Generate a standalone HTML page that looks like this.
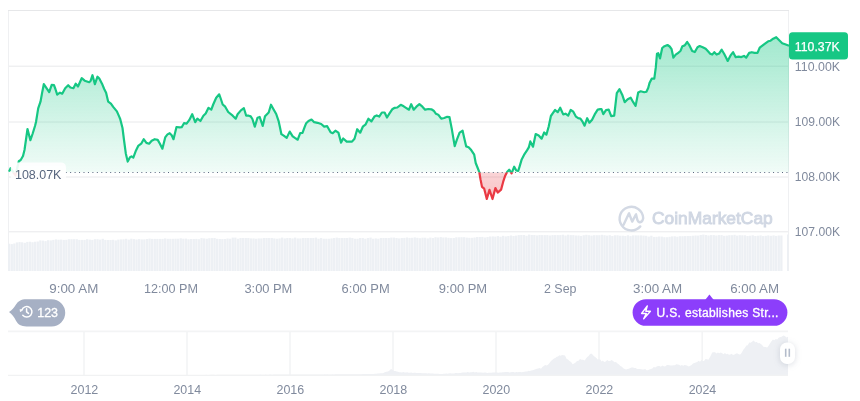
<!DOCTYPE html>
<html><head><meta charset="utf-8"><style>
html,body{margin:0;padding:0;background:#fff;width:860px;height:401px;overflow:hidden;}
svg{position:absolute;left:0;top:0;font-family:"Liberation Sans",sans-serif;will-change:transform;}
</style></head><body>
<svg width="860" height="401" viewBox="0 0 860 401">
<defs>
<linearGradient id="gg" gradientUnits="userSpaceOnUse" x1="0" y1="37" x2="0" y2="172.5">
<stop offset="0" stop-color="#16c784" stop-opacity="0.40"/>
<stop offset="1" stop-color="#16c784" stop-opacity="0.06"/>
</linearGradient>
<linearGradient id="rg" gradientUnits="userSpaceOnUse" x1="0" y1="172.5" x2="0" y2="199">
<stop offset="0" stop-color="#ea3943" stop-opacity="0.22"/>
<stop offset="1" stop-color="#ea3943" stop-opacity="0.30"/>
</linearGradient>
<clipPath id="above"><rect x="0" y="0" width="860" height="172.5"/></clipPath>
<clipPath id="below"><rect x="0" y="172.5" width="860" height="200"/></clipPath>
</defs>
<!-- chart frame -->
<g stroke-width="1" shape-rendering="crispEdges">
<line x1="8" y1="10.5" x2="789" y2="10.5" stroke="#e6e7e9"/>
<g stroke="#e8e9eb" shape-rendering="auto"><line x1="9" y1="66.2" x2="788.5" y2="66.2"/><line x1="9" y1="122.0" x2="788.5" y2="122.0"/><line x1="9" y1="177.0" x2="788.5" y2="177.0"/><line x1="9" y1="231.8" x2="788.5" y2="231.8"/></g>
<line x1="8.5" y1="11" x2="8.5" y2="271" stroke="#eff0f2"/>
<line x1="788.5" y1="11" x2="788.5" y2="271" stroke="#eff0f2"/>
</g>
<!-- volume -->
<g fill="#edf0f4"><rect x="8.00" y="243.7" width="2.30" height="27.3"/><rect x="10.60" y="244.1" width="2.30" height="26.9"/><rect x="13.20" y="243.5" width="2.30" height="27.5"/><rect x="15.80" y="242.4" width="2.30" height="28.6"/><rect x="18.40" y="242.1" width="2.30" height="28.9"/><rect x="21.00" y="242.3" width="2.30" height="28.7"/><rect x="23.60" y="242.8" width="2.30" height="28.2"/><rect x="26.20" y="241.9" width="2.30" height="29.1"/><rect x="28.80" y="241.7" width="2.30" height="29.3"/><rect x="31.40" y="242.2" width="2.30" height="28.8"/><rect x="34.00" y="241.7" width="2.30" height="29.3"/><rect x="36.60" y="241.5" width="2.30" height="29.5"/><rect x="39.20" y="240.4" width="2.30" height="30.6"/><rect x="41.80" y="240.6" width="2.30" height="30.4"/><rect x="44.40" y="241.1" width="2.30" height="29.9"/><rect x="47.00" y="240.2" width="2.30" height="30.8"/><rect x="49.60" y="240.4" width="2.30" height="30.6"/><rect x="52.20" y="239.9" width="2.30" height="31.1"/><rect x="54.80" y="239.4" width="2.30" height="31.6"/><rect x="57.40" y="239.7" width="2.30" height="31.3"/><rect x="60.00" y="239.6" width="2.30" height="31.4"/><rect x="62.60" y="239.9" width="2.30" height="31.1"/><rect x="65.20" y="239.8" width="2.30" height="31.2"/><rect x="67.80" y="239.2" width="2.30" height="31.8"/><rect x="70.40" y="239.2" width="2.30" height="31.8"/><rect x="73.00" y="239.2" width="2.30" height="31.8"/><rect x="75.60" y="239.2" width="2.30" height="31.8"/><rect x="78.20" y="239.9" width="2.30" height="31.1"/><rect x="80.80" y="239.9" width="2.30" height="31.1"/><rect x="83.40" y="239.9" width="2.30" height="31.1"/><rect x="86.00" y="239.2" width="2.30" height="31.8"/><rect x="88.60" y="239.6" width="2.30" height="31.4"/><rect x="91.20" y="239.9" width="2.30" height="31.1"/><rect x="93.80" y="239.2" width="2.30" height="31.8"/><rect x="96.40" y="239.2" width="2.30" height="31.8"/><rect x="99.00" y="239.6" width="2.30" height="31.4"/><rect x="101.60" y="238.8" width="2.30" height="32.2"/><rect x="104.20" y="239.9" width="2.30" height="31.1"/><rect x="106.80" y="240.0" width="2.30" height="31.0"/><rect x="109.40" y="240.0" width="2.30" height="31.0"/><rect x="112.00" y="239.8" width="2.30" height="31.2"/><rect x="114.60" y="240.4" width="2.30" height="30.6"/><rect x="117.20" y="239.6" width="2.30" height="31.4"/><rect x="119.80" y="239.4" width="2.30" height="31.6"/><rect x="122.40" y="239.3" width="2.30" height="31.7"/><rect x="125.00" y="238.8" width="2.30" height="32.2"/><rect x="127.60" y="239.6" width="2.30" height="31.4"/><rect x="130.20" y="238.7" width="2.30" height="32.3"/><rect x="132.80" y="239.1" width="2.30" height="31.9"/><rect x="135.40" y="239.5" width="2.30" height="31.5"/><rect x="138.00" y="239.1" width="2.30" height="31.9"/><rect x="140.60" y="239.4" width="2.30" height="31.6"/><rect x="143.20" y="239.4" width="2.30" height="31.6"/><rect x="145.80" y="239.0" width="2.30" height="32.0"/><rect x="148.40" y="238.6" width="2.30" height="32.4"/><rect x="151.00" y="238.9" width="2.30" height="32.1"/><rect x="153.60" y="238.9" width="2.30" height="32.1"/><rect x="156.20" y="238.9" width="2.30" height="32.1"/><rect x="158.80" y="238.9" width="2.30" height="32.1"/><rect x="161.40" y="238.9" width="2.30" height="32.1"/><rect x="164.00" y="238.4" width="2.30" height="32.6"/><rect x="166.60" y="238.8" width="2.30" height="32.2"/><rect x="169.20" y="238.8" width="2.30" height="32.2"/><rect x="171.80" y="238.8" width="2.30" height="32.2"/><rect x="174.40" y="238.7" width="2.30" height="32.3"/><rect x="177.00" y="238.7" width="2.30" height="32.3"/><rect x="179.60" y="238.3" width="2.30" height="32.7"/><rect x="182.20" y="238.7" width="2.30" height="32.3"/><rect x="184.80" y="238.6" width="2.30" height="32.4"/><rect x="187.40" y="239.3" width="2.30" height="31.7"/><rect x="190.00" y="239.0" width="2.30" height="32.0"/><rect x="192.60" y="239.0" width="2.30" height="32.0"/><rect x="195.20" y="238.9" width="2.30" height="32.1"/><rect x="197.80" y="239.2" width="2.30" height="31.8"/><rect x="200.40" y="238.1" width="2.30" height="32.9"/><rect x="203.00" y="238.4" width="2.30" height="32.6"/><rect x="205.60" y="238.7" width="2.30" height="32.3"/><rect x="208.20" y="238.2" width="2.30" height="32.8"/><rect x="210.80" y="238.1" width="2.30" height="32.9"/><rect x="213.40" y="238.0" width="2.30" height="33.0"/><rect x="216.00" y="238.8" width="2.30" height="32.2"/><rect x="218.60" y="239.0" width="2.30" height="32.0"/><rect x="221.20" y="239.1" width="2.30" height="31.9"/><rect x="223.80" y="239.0" width="2.30" height="32.0"/><rect x="226.40" y="238.5" width="2.30" height="32.5"/><rect x="229.00" y="238.7" width="2.30" height="32.3"/><rect x="231.60" y="237.6" width="2.30" height="33.4"/><rect x="234.20" y="237.6" width="2.30" height="33.4"/><rect x="236.80" y="238.7" width="2.30" height="32.3"/><rect x="239.40" y="238.0" width="2.30" height="33.0"/><rect x="242.00" y="238.0" width="2.30" height="33.0"/><rect x="244.60" y="238.0" width="2.30" height="33.0"/><rect x="247.20" y="238.0" width="2.30" height="33.0"/><rect x="249.80" y="238.4" width="2.30" height="32.6"/><rect x="252.40" y="238.4" width="2.30" height="32.6"/><rect x="255.00" y="238.7" width="2.30" height="32.3"/><rect x="257.60" y="238.4" width="2.30" height="32.6"/><rect x="260.20" y="238.4" width="2.30" height="32.6"/><rect x="262.80" y="238.0" width="2.30" height="33.0"/><rect x="265.40" y="238.0" width="2.30" height="33.0"/><rect x="268.00" y="238.0" width="2.30" height="33.0"/><rect x="270.60" y="238.0" width="2.30" height="33.0"/><rect x="273.20" y="238.4" width="2.30" height="32.6"/><rect x="275.80" y="238.7" width="2.30" height="32.3"/><rect x="278.40" y="238.4" width="2.30" height="32.6"/><rect x="281.00" y="237.6" width="2.30" height="33.4"/><rect x="283.60" y="238.4" width="2.30" height="32.6"/><rect x="286.20" y="238.0" width="2.30" height="33.0"/><rect x="288.80" y="238.0" width="2.30" height="33.0"/><rect x="291.40" y="238.4" width="2.30" height="32.6"/><rect x="294.00" y="237.6" width="2.30" height="33.4"/><rect x="296.60" y="238.4" width="2.30" height="32.6"/><rect x="299.20" y="238.4" width="2.30" height="32.6"/><rect x="301.80" y="238.0" width="2.30" height="33.0"/><rect x="304.40" y="238.0" width="2.30" height="33.0"/><rect x="307.00" y="238.0" width="2.30" height="33.0"/><rect x="309.60" y="238.0" width="2.30" height="33.0"/><rect x="312.20" y="238.0" width="2.30" height="33.0"/><rect x="314.80" y="237.6" width="2.30" height="33.4"/><rect x="317.40" y="238.7" width="2.30" height="32.3"/><rect x="320.00" y="238.0" width="2.30" height="33.0"/><rect x="322.60" y="238.7" width="2.30" height="32.3"/><rect x="325.20" y="238.7" width="2.30" height="32.3"/><rect x="327.80" y="238.7" width="2.30" height="32.3"/><rect x="330.40" y="238.4" width="2.30" height="32.6"/><rect x="333.00" y="238.0" width="2.30" height="33.0"/><rect x="335.60" y="237.6" width="2.30" height="33.4"/><rect x="338.20" y="238.0" width="2.30" height="33.0"/><rect x="340.80" y="238.0" width="2.30" height="33.0"/><rect x="343.40" y="238.0" width="2.30" height="33.0"/><rect x="346.00" y="238.0" width="2.30" height="33.0"/><rect x="348.60" y="237.6" width="2.30" height="33.4"/><rect x="351.20" y="238.0" width="2.30" height="33.0"/><rect x="353.80" y="238.7" width="2.30" height="32.3"/><rect x="356.40" y="238.7" width="2.30" height="32.3"/><rect x="359.00" y="238.0" width="2.30" height="33.0"/><rect x="361.60" y="238.0" width="2.30" height="33.0"/><rect x="364.20" y="238.7" width="2.30" height="32.3"/><rect x="366.80" y="238.0" width="2.30" height="33.0"/><rect x="369.40" y="237.6" width="2.30" height="33.4"/><rect x="372.00" y="238.7" width="2.30" height="32.3"/><rect x="374.60" y="238.4" width="2.30" height="32.6"/><rect x="377.20" y="238.7" width="2.30" height="32.3"/><rect x="379.80" y="238.0" width="2.30" height="33.0"/><rect x="382.40" y="238.0" width="2.30" height="33.0"/><rect x="385.00" y="238.0" width="2.30" height="33.0"/><rect x="387.60" y="238.0" width="2.30" height="33.0"/><rect x="390.20" y="237.6" width="2.30" height="33.4"/><rect x="392.80" y="237.6" width="2.30" height="33.4"/><rect x="395.40" y="238.0" width="2.30" height="33.0"/><rect x="398.00" y="238.4" width="2.30" height="32.6"/><rect x="400.60" y="238.0" width="2.30" height="33.0"/><rect x="403.20" y="237.9" width="2.30" height="33.1"/><rect x="405.80" y="237.5" width="2.30" height="33.5"/><rect x="408.40" y="237.9" width="2.30" height="33.1"/><rect x="411.00" y="237.8" width="2.30" height="33.2"/><rect x="413.60" y="237.4" width="2.30" height="33.6"/><rect x="416.20" y="237.8" width="2.30" height="33.2"/><rect x="418.80" y="238.2" width="2.30" height="32.8"/><rect x="421.40" y="237.7" width="2.30" height="33.3"/><rect x="424.00" y="237.7" width="2.30" height="33.3"/><rect x="426.60" y="238.4" width="2.30" height="32.6"/><rect x="429.20" y="237.6" width="2.30" height="33.4"/><rect x="431.80" y="238.0" width="2.30" height="33.0"/><rect x="434.40" y="237.2" width="2.30" height="33.8"/><rect x="437.00" y="237.5" width="2.30" height="33.5"/><rect x="439.60" y="237.1" width="2.30" height="33.9"/><rect x="442.20" y="237.5" width="2.30" height="33.5"/><rect x="444.80" y="237.4" width="2.30" height="33.6"/><rect x="447.40" y="237.8" width="2.30" height="33.2"/><rect x="450.00" y="238.1" width="2.30" height="32.9"/><rect x="452.60" y="238.0" width="2.30" height="33.0"/><rect x="455.20" y="237.3" width="2.30" height="33.7"/><rect x="457.80" y="237.3" width="2.30" height="33.7"/><rect x="460.40" y="237.2" width="2.30" height="33.8"/><rect x="463.00" y="237.2" width="2.30" height="33.8"/><rect x="465.60" y="237.6" width="2.30" height="33.4"/><rect x="468.20" y="237.8" width="2.30" height="33.2"/><rect x="470.80" y="237.8" width="2.30" height="33.2"/><rect x="473.40" y="237.5" width="2.30" height="33.5"/><rect x="476.00" y="237.0" width="2.30" height="34.0"/><rect x="478.60" y="237.0" width="2.30" height="34.0"/><rect x="481.20" y="236.9" width="2.30" height="34.1"/><rect x="483.80" y="237.5" width="2.30" height="33.5"/><rect x="486.40" y="237.0" width="2.30" height="34.0"/><rect x="489.00" y="236.5" width="2.30" height="34.5"/><rect x="491.60" y="236.4" width="2.30" height="34.6"/><rect x="494.20" y="236.6" width="2.30" height="34.4"/><rect x="496.80" y="236.1" width="2.30" height="34.9"/><rect x="499.40" y="236.7" width="2.30" height="34.3"/><rect x="502.00" y="235.8" width="2.30" height="35.2"/><rect x="504.60" y="236.4" width="2.30" height="34.6"/><rect x="507.20" y="236.0" width="2.30" height="35.0"/><rect x="509.80" y="235.5" width="2.30" height="35.5"/><rect x="512.40" y="236.0" width="2.30" height="35.0"/><rect x="515.00" y="235.6" width="2.30" height="35.4"/><rect x="517.60" y="235.1" width="2.30" height="35.9"/><rect x="520.20" y="235.0" width="2.30" height="36.0"/><rect x="522.80" y="235.0" width="2.30" height="36.0"/><rect x="525.40" y="235.7" width="2.30" height="35.3"/><rect x="528.00" y="234.6" width="2.30" height="36.4"/><rect x="530.60" y="235.0" width="2.30" height="36.0"/><rect x="533.20" y="235.0" width="2.30" height="36.0"/><rect x="535.80" y="235.4" width="2.30" height="35.6"/><rect x="538.40" y="235.0" width="2.30" height="36.0"/><rect x="541.00" y="235.1" width="2.30" height="35.9"/><rect x="543.60" y="235.1" width="2.30" height="35.9"/><rect x="546.20" y="235.1" width="2.30" height="35.9"/><rect x="548.80" y="235.5" width="2.30" height="35.5"/><rect x="551.40" y="235.1" width="2.30" height="35.9"/><rect x="554.00" y="235.1" width="2.30" height="35.9"/><rect x="556.60" y="235.1" width="2.30" height="35.9"/><rect x="559.20" y="235.1" width="2.30" height="35.9"/><rect x="561.80" y="234.7" width="2.30" height="36.3"/><rect x="564.40" y="235.5" width="2.30" height="35.5"/><rect x="567.00" y="234.7" width="2.30" height="36.3"/><rect x="569.60" y="235.1" width="2.30" height="35.9"/><rect x="572.20" y="235.1" width="2.30" height="35.9"/><rect x="574.80" y="235.5" width="2.30" height="35.5"/><rect x="577.40" y="235.5" width="2.30" height="35.5"/><rect x="580.00" y="235.9" width="2.30" height="35.1"/><rect x="582.60" y="235.2" width="2.30" height="35.8"/><rect x="585.20" y="234.8" width="2.30" height="36.2"/><rect x="587.80" y="235.2" width="2.30" height="35.8"/><rect x="590.40" y="235.6" width="2.30" height="35.4"/><rect x="593.00" y="235.2" width="2.30" height="35.8"/><rect x="595.60" y="235.2" width="2.30" height="35.8"/><rect x="598.20" y="235.2" width="2.30" height="35.8"/><rect x="600.80" y="234.8" width="2.30" height="36.2"/><rect x="603.40" y="235.2" width="2.30" height="35.8"/><rect x="606.00" y="235.6" width="2.30" height="35.4"/><rect x="608.60" y="235.2" width="2.30" height="35.8"/><rect x="611.20" y="236.0" width="2.30" height="35.0"/><rect x="613.80" y="235.3" width="2.30" height="35.7"/><rect x="616.40" y="235.3" width="2.30" height="35.7"/><rect x="619.00" y="235.7" width="2.30" height="35.3"/><rect x="621.60" y="235.7" width="2.30" height="35.3"/><rect x="624.20" y="236.0" width="2.30" height="35.0"/><rect x="626.80" y="235.3" width="2.30" height="35.7"/><rect x="629.40" y="236.1" width="2.30" height="34.9"/><rect x="632.00" y="235.4" width="2.30" height="35.6"/><rect x="634.60" y="235.4" width="2.30" height="35.6"/><rect x="637.20" y="235.4" width="2.30" height="35.6"/><rect x="639.80" y="235.4" width="2.30" height="35.6"/><rect x="642.40" y="235.6" width="2.30" height="35.4"/><rect x="645.00" y="235.8" width="2.30" height="35.2"/><rect x="647.60" y="236.6" width="2.30" height="34.4"/><rect x="650.20" y="235.7" width="2.30" height="35.3"/><rect x="652.80" y="236.9" width="2.30" height="34.1"/><rect x="655.40" y="236.8" width="2.30" height="34.2"/><rect x="658.00" y="236.5" width="2.30" height="34.5"/><rect x="660.60" y="236.6" width="2.30" height="34.4"/><rect x="663.20" y="237.2" width="2.30" height="33.8"/><rect x="665.80" y="237.2" width="2.30" height="33.8"/><rect x="668.40" y="236.8" width="2.30" height="34.2"/><rect x="671.00" y="236.4" width="2.30" height="34.6"/><rect x="673.60" y="236.3" width="2.30" height="34.7"/><rect x="676.20" y="236.7" width="2.30" height="34.3"/><rect x="678.80" y="236.2" width="2.30" height="34.8"/><rect x="681.40" y="236.2" width="2.30" height="34.8"/><rect x="684.00" y="236.1" width="2.30" height="34.9"/><rect x="686.60" y="236.0" width="2.30" height="35.0"/><rect x="689.20" y="236.0" width="2.30" height="35.0"/><rect x="691.80" y="235.7" width="2.30" height="35.3"/><rect x="694.40" y="235.5" width="2.30" height="35.5"/><rect x="697.00" y="235.6" width="2.30" height="35.4"/><rect x="699.60" y="235.0" width="2.30" height="36.0"/><rect x="702.20" y="234.6" width="2.30" height="36.4"/><rect x="704.80" y="235.0" width="2.30" height="36.0"/><rect x="707.40" y="235.5" width="2.30" height="35.5"/><rect x="710.00" y="235.1" width="2.30" height="35.9"/><rect x="712.60" y="235.1" width="2.30" height="35.9"/><rect x="715.20" y="235.5" width="2.30" height="35.5"/><rect x="717.80" y="235.1" width="2.30" height="35.9"/><rect x="720.40" y="235.1" width="2.30" height="35.9"/><rect x="723.00" y="235.8" width="2.30" height="35.2"/><rect x="725.60" y="235.6" width="2.30" height="35.4"/><rect x="728.20" y="235.2" width="2.30" height="35.8"/><rect x="730.80" y="235.2" width="2.30" height="35.8"/><rect x="733.40" y="234.8" width="2.30" height="36.2"/><rect x="736.00" y="235.6" width="2.30" height="35.4"/><rect x="738.60" y="235.2" width="2.30" height="35.8"/><rect x="741.20" y="235.3" width="2.30" height="35.7"/><rect x="743.80" y="235.3" width="2.30" height="35.7"/><rect x="746.40" y="236.0" width="2.30" height="35.0"/><rect x="749.00" y="235.7" width="2.30" height="35.3"/><rect x="751.60" y="235.3" width="2.30" height="35.7"/><rect x="754.20" y="236.0" width="2.30" height="35.0"/><rect x="756.80" y="235.7" width="2.30" height="35.3"/><rect x="759.40" y="235.4" width="2.30" height="35.6"/><rect x="762.00" y="236.1" width="2.30" height="34.9"/><rect x="764.60" y="235.8" width="2.30" height="35.2"/><rect x="767.20" y="235.4" width="2.30" height="35.6"/><rect x="769.80" y="235.8" width="2.30" height="35.2"/><rect x="772.40" y="235.4" width="2.30" height="35.6"/><rect x="775.00" y="235.9" width="2.30" height="35.1"/><rect x="777.60" y="235.5" width="2.30" height="35.5"/><rect x="780.20" y="235.5" width="2.30" height="35.5"/><rect x="787" y="234.5" width="1.6" height="36.5"/></g>
<!-- watermark -->
<path d="M640.3,226.4 A11.8,11.8 0 1 1 643.2,218.2 Q642.6,222.6 639.6,222.2 Q637.6,221.8 637,218.5 L636,214.3 L632.2,221.6 L629,213.3 L623.6,224.8" fill="none" stroke="#d3d9e4" stroke-width="2.4" stroke-linecap="round" stroke-linejoin="round"/>
<text x="652.02" y="224.3" font-size="17" textLength="120.71" lengthAdjust="spacingAndGlyphs" fill="#d0d7e3" stroke="#d0d7e3" stroke-width="0.9">CoinMarketCap</text>
<!-- area -->
<path d="M9.0,171.6 L10.6,168.2 L15.5,175.5 L18.8,161.2 L20.7,160.0 L23.0,156.0 L24.5,150.0 L26.0,139.5 L27.5,129.0 L30.4,140.2 L32.7,133.5 L35.0,126.0 L36.0,122.0 L38.2,108.4 L40.5,101.7 L42.0,93.4 L43.8,84.2 L46.5,88.2 L49.2,92.2 L51.7,84.9 L54.0,85.2 L55.4,89.0 L57.2,94.6 L60.0,92.7 L62.2,93.7 L65.2,88.2 L68.2,85.2 L70.4,87.5 L73.4,88.2 L75.7,83.7 L78.0,86.5 L81.7,78.2 L84.7,80.7 L89.2,82.2 L90.7,80.7 L92.5,75.2 L94.9,84.2 L97.5,76.7 L99.3,78.5 L102.0,83.7 L104.2,89.0 L106.1,92.7 L108.2,101.7 L110.9,103.6 L113.2,106.9 L116.9,111.4 L119.2,116.6 L120.2,119.0 L122.5,128.0 L124.0,140.0 L125.8,153.4 L127.7,161.6 L130.0,157.2 L131.5,156.4 L133.3,157.6 L136.0,150.4 L138.2,145.9 L141.2,143.7 L143.7,139.2 L146.4,142.9 L149.1,143.7 L151.7,140.7 L154.7,139.2 L157.7,139.9 L159.9,143.7 L162.4,148.7 L165.2,137.4 L167.5,134.4 L169.7,133.2 L171.7,135.2 L173.5,139.2 L176.5,127.0 L179.5,127.4 L181.7,127.2 L184.0,123.2 L186.6,123.7 L189.2,120.2 L192.2,114.2 L195.2,122.2 L197.4,118.7 L200.4,121.0 L203.4,115.7 L205.7,113.5 L208.5,107.8 L211.3,109.7 L213.2,104.5 L216.2,97.7 L219.2,94.3 L220.7,98.5 L222.7,104.5 L225.2,106.7 L228.2,112.0 L232.7,115.7 L235.7,118.7 L237.6,114.2 L240.9,110.4 L243.9,108.2 L246.2,115.7 L248.7,115.7 L250.7,116.4 L252.4,119.0 L254.8,126.7 L257.5,117.7 L259.7,117.0 L262.7,125.9 L265.0,116.2 L266.5,114.7 L268.7,112.5 L271.0,104.7 L273.2,108.7 L276.2,114.0 L278.7,121.4 L280.0,127.4 L281.4,134.2 L283.7,135.7 L286.7,137.9 L289.7,131.6 L292.7,136.4 L294.9,137.9 L297.7,139.7 L300.2,133.2 L302.5,132.9 L304.7,126.9 L306.2,123.2 L308.5,121.0 L311.5,119.5 L314.2,122.2 L317.5,122.8 L321.2,124.0 L324.2,126.6 L327.2,126.2 L330.6,132.2 L332.7,133.2 L335.4,130.7 L338.4,132.6 L341.1,142.6 L343.2,138.5 L346.7,141.6 L349.7,141.6 L352.0,141.6 L354.5,138.7 L357.2,129.2 L360.2,132.7 L362.8,126.7 L365.4,124.7 L368.4,118.7 L371.4,121.4 L374.4,116.6 L376.7,115.4 L379.2,116.6 L381.9,112.5 L384.6,112.5 L387.0,117.5 L389.5,113.4 L392.2,109.3 L394.7,107.8 L397.3,107.5 L400.7,104.8 L403.7,106.3 L406.0,107.8 L409.0,109.7 L411.2,104.2 L413.7,109.7 L416.4,106.7 L419.4,104.2 L422.4,106.7 L425.1,109.7 L428.4,109.0 L431.4,109.3 L433.7,110.7 L436.0,113.8 L438.2,114.7 L441.2,118.7 L444.2,118.0 L447.2,116.8 L449.5,117.2 L451.7,128.4 L454.7,146.1 L456.9,139.7 L459.6,132.6 L462.6,130.7 L464.1,137.4 L466.2,146.4 L468.6,147.2 L471.2,150.1 L474.2,154.7 L475.7,163.0 L477.5,167.5 L479.3,172.2 L480.5,179.4 L482.0,186.9 L484.2,188.7 L486.8,199.0 L489.5,189.9 L492.5,199.0 L495.4,188.1 L497.7,192.6 L501.1,189.6 L503.2,181.7 L505.2,175.7 L507.1,171.9 L509.2,169.7 L511.6,173.4 L514.2,166.7 L516.3,170.5 L518.2,171.0 L519.5,166.9 L521.7,159.4 L524.0,154.9 L527.0,150.4 L528.8,147.4 L530.3,141.4 L533.0,146.7 L535.7,134.0 L538.7,135.4 L541.6,138.7 L544.2,132.5 L546.4,134.7 L548.7,126.5 L550.9,116.0 L553.2,112.7 L555.1,110.0 L557.7,112.2 L560.2,107.7 L563.2,114.4 L565.5,113.7 L568.2,115.6 L570.7,109.9 L573.3,111.7 L576.0,116.7 L578.2,118.2 L580.4,118.6 L582.7,121.9 L584.6,125.7 L587.2,118.2 L589.4,122.7 L592.1,119.7 L594.7,114.4 L597.7,109.6 L600.2,109.2 L601.5,109.2 L603.3,114.2 L606.0,110.1 L608.7,109.7 L611.2,116.1 L614.2,115.7 L616.8,93.2 L619.5,89.2 L622.2,94.7 L624.7,102.2 L627.7,99.2 L630.7,97.7 L633.2,102.2 L635.6,105.9 L638.2,92.5 L640.7,91.3 L644.2,92.2 L646.4,91.7 L648.2,88.0 L649.5,83.1 L651.7,78.7 L654.3,78.7 L655.8,67.4 L657.0,53.7 L658.2,53.2 L660.0,58.4 L662.2,48.0 L664.5,46.2 L667.5,45.0 L669.7,46.5 L671.6,49.2 L673.4,57.7 L675.7,54.7 L677.9,53.2 L680.6,50.7 L682.4,46.2 L684.7,45.4 L687.2,42.0 L689.6,45.7 L692.2,51.0 L694.8,52.0 L697.5,47.2 L699.7,46.0 L702.7,47.2 L705.7,48.7 L708.0,51.2 L710.2,53.7 L712.2,54.6 L714.3,52.2 L716.6,54.6 L719.2,53.4 L721.7,49.7 L724.1,53.7 L725.9,57.2 L727.7,60.9 L730.4,55.7 L733.1,52.2 L735.7,57.2 L738.7,56.7 L741.3,57.1 L744.0,55.9 L746.2,57.7 L749.2,52.9 L751.8,52.2 L754.5,52.9 L757.5,52.9 L759.7,47.7 L762.7,45.4 L765.7,43.2 L768.2,41.3 L770.6,40.7 L773.2,38.7 L776.2,37.2 L779.2,40.2 L782.2,43.2 L785.1,44.3 L789.0,45.8 L789.0,172.5 L9.0,172.5 Z" fill="url(#gg)" clip-path="url(#above)"/>
<path d="M9.0,171.6 L10.6,168.2 L15.5,175.5 L18.8,161.2 L20.7,160.0 L23.0,156.0 L24.5,150.0 L26.0,139.5 L27.5,129.0 L30.4,140.2 L32.7,133.5 L35.0,126.0 L36.0,122.0 L38.2,108.4 L40.5,101.7 L42.0,93.4 L43.8,84.2 L46.5,88.2 L49.2,92.2 L51.7,84.9 L54.0,85.2 L55.4,89.0 L57.2,94.6 L60.0,92.7 L62.2,93.7 L65.2,88.2 L68.2,85.2 L70.4,87.5 L73.4,88.2 L75.7,83.7 L78.0,86.5 L81.7,78.2 L84.7,80.7 L89.2,82.2 L90.7,80.7 L92.5,75.2 L94.9,84.2 L97.5,76.7 L99.3,78.5 L102.0,83.7 L104.2,89.0 L106.1,92.7 L108.2,101.7 L110.9,103.6 L113.2,106.9 L116.9,111.4 L119.2,116.6 L120.2,119.0 L122.5,128.0 L124.0,140.0 L125.8,153.4 L127.7,161.6 L130.0,157.2 L131.5,156.4 L133.3,157.6 L136.0,150.4 L138.2,145.9 L141.2,143.7 L143.7,139.2 L146.4,142.9 L149.1,143.7 L151.7,140.7 L154.7,139.2 L157.7,139.9 L159.9,143.7 L162.4,148.7 L165.2,137.4 L167.5,134.4 L169.7,133.2 L171.7,135.2 L173.5,139.2 L176.5,127.0 L179.5,127.4 L181.7,127.2 L184.0,123.2 L186.6,123.7 L189.2,120.2 L192.2,114.2 L195.2,122.2 L197.4,118.7 L200.4,121.0 L203.4,115.7 L205.7,113.5 L208.5,107.8 L211.3,109.7 L213.2,104.5 L216.2,97.7 L219.2,94.3 L220.7,98.5 L222.7,104.5 L225.2,106.7 L228.2,112.0 L232.7,115.7 L235.7,118.7 L237.6,114.2 L240.9,110.4 L243.9,108.2 L246.2,115.7 L248.7,115.7 L250.7,116.4 L252.4,119.0 L254.8,126.7 L257.5,117.7 L259.7,117.0 L262.7,125.9 L265.0,116.2 L266.5,114.7 L268.7,112.5 L271.0,104.7 L273.2,108.7 L276.2,114.0 L278.7,121.4 L280.0,127.4 L281.4,134.2 L283.7,135.7 L286.7,137.9 L289.7,131.6 L292.7,136.4 L294.9,137.9 L297.7,139.7 L300.2,133.2 L302.5,132.9 L304.7,126.9 L306.2,123.2 L308.5,121.0 L311.5,119.5 L314.2,122.2 L317.5,122.8 L321.2,124.0 L324.2,126.6 L327.2,126.2 L330.6,132.2 L332.7,133.2 L335.4,130.7 L338.4,132.6 L341.1,142.6 L343.2,138.5 L346.7,141.6 L349.7,141.6 L352.0,141.6 L354.5,138.7 L357.2,129.2 L360.2,132.7 L362.8,126.7 L365.4,124.7 L368.4,118.7 L371.4,121.4 L374.4,116.6 L376.7,115.4 L379.2,116.6 L381.9,112.5 L384.6,112.5 L387.0,117.5 L389.5,113.4 L392.2,109.3 L394.7,107.8 L397.3,107.5 L400.7,104.8 L403.7,106.3 L406.0,107.8 L409.0,109.7 L411.2,104.2 L413.7,109.7 L416.4,106.7 L419.4,104.2 L422.4,106.7 L425.1,109.7 L428.4,109.0 L431.4,109.3 L433.7,110.7 L436.0,113.8 L438.2,114.7 L441.2,118.7 L444.2,118.0 L447.2,116.8 L449.5,117.2 L451.7,128.4 L454.7,146.1 L456.9,139.7 L459.6,132.6 L462.6,130.7 L464.1,137.4 L466.2,146.4 L468.6,147.2 L471.2,150.1 L474.2,154.7 L475.7,163.0 L477.5,167.5 L479.3,172.2 L480.5,179.4 L482.0,186.9 L484.2,188.7 L486.8,199.0 L489.5,189.9 L492.5,199.0 L495.4,188.1 L497.7,192.6 L501.1,189.6 L503.2,181.7 L505.2,175.7 L507.1,171.9 L509.2,169.7 L511.6,173.4 L514.2,166.7 L516.3,170.5 L518.2,171.0 L519.5,166.9 L521.7,159.4 L524.0,154.9 L527.0,150.4 L528.8,147.4 L530.3,141.4 L533.0,146.7 L535.7,134.0 L538.7,135.4 L541.6,138.7 L544.2,132.5 L546.4,134.7 L548.7,126.5 L550.9,116.0 L553.2,112.7 L555.1,110.0 L557.7,112.2 L560.2,107.7 L563.2,114.4 L565.5,113.7 L568.2,115.6 L570.7,109.9 L573.3,111.7 L576.0,116.7 L578.2,118.2 L580.4,118.6 L582.7,121.9 L584.6,125.7 L587.2,118.2 L589.4,122.7 L592.1,119.7 L594.7,114.4 L597.7,109.6 L600.2,109.2 L601.5,109.2 L603.3,114.2 L606.0,110.1 L608.7,109.7 L611.2,116.1 L614.2,115.7 L616.8,93.2 L619.5,89.2 L622.2,94.7 L624.7,102.2 L627.7,99.2 L630.7,97.7 L633.2,102.2 L635.6,105.9 L638.2,92.5 L640.7,91.3 L644.2,92.2 L646.4,91.7 L648.2,88.0 L649.5,83.1 L651.7,78.7 L654.3,78.7 L655.8,67.4 L657.0,53.7 L658.2,53.2 L660.0,58.4 L662.2,48.0 L664.5,46.2 L667.5,45.0 L669.7,46.5 L671.6,49.2 L673.4,57.7 L675.7,54.7 L677.9,53.2 L680.6,50.7 L682.4,46.2 L684.7,45.4 L687.2,42.0 L689.6,45.7 L692.2,51.0 L694.8,52.0 L697.5,47.2 L699.7,46.0 L702.7,47.2 L705.7,48.7 L708.0,51.2 L710.2,53.7 L712.2,54.6 L714.3,52.2 L716.6,54.6 L719.2,53.4 L721.7,49.7 L724.1,53.7 L725.9,57.2 L727.7,60.9 L730.4,55.7 L733.1,52.2 L735.7,57.2 L738.7,56.7 L741.3,57.1 L744.0,55.9 L746.2,57.7 L749.2,52.9 L751.8,52.2 L754.5,52.9 L757.5,52.9 L759.7,47.7 L762.7,45.4 L765.7,43.2 L768.2,41.3 L770.6,40.7 L773.2,38.7 L776.2,37.2 L779.2,40.2 L782.2,43.2 L785.1,44.3 L789.0,45.8 L789.0,171.5 L9.0,171.5 Z" fill="url(#rg)" clip-path="url(#below)"/>
<line x1="65.7" y1="172.5" x2="789" y2="172.5" stroke="#58667e" stroke-width="1" stroke-dasharray="1,3.449"/>
<path d="M9.0,171.6 L10.6,168.2 L15.5,175.5 L18.8,161.2 L20.7,160.0 L23.0,156.0 L24.5,150.0 L26.0,139.5 L27.5,129.0 L30.4,140.2 L32.7,133.5 L35.0,126.0 L36.0,122.0 L38.2,108.4 L40.5,101.7 L42.0,93.4 L43.8,84.2 L46.5,88.2 L49.2,92.2 L51.7,84.9 L54.0,85.2 L55.4,89.0 L57.2,94.6 L60.0,92.7 L62.2,93.7 L65.2,88.2 L68.2,85.2 L70.4,87.5 L73.4,88.2 L75.7,83.7 L78.0,86.5 L81.7,78.2 L84.7,80.7 L89.2,82.2 L90.7,80.7 L92.5,75.2 L94.9,84.2 L97.5,76.7 L99.3,78.5 L102.0,83.7 L104.2,89.0 L106.1,92.7 L108.2,101.7 L110.9,103.6 L113.2,106.9 L116.9,111.4 L119.2,116.6 L120.2,119.0 L122.5,128.0 L124.0,140.0 L125.8,153.4 L127.7,161.6 L130.0,157.2 L131.5,156.4 L133.3,157.6 L136.0,150.4 L138.2,145.9 L141.2,143.7 L143.7,139.2 L146.4,142.9 L149.1,143.7 L151.7,140.7 L154.7,139.2 L157.7,139.9 L159.9,143.7 L162.4,148.7 L165.2,137.4 L167.5,134.4 L169.7,133.2 L171.7,135.2 L173.5,139.2 L176.5,127.0 L179.5,127.4 L181.7,127.2 L184.0,123.2 L186.6,123.7 L189.2,120.2 L192.2,114.2 L195.2,122.2 L197.4,118.7 L200.4,121.0 L203.4,115.7 L205.7,113.5 L208.5,107.8 L211.3,109.7 L213.2,104.5 L216.2,97.7 L219.2,94.3 L220.7,98.5 L222.7,104.5 L225.2,106.7 L228.2,112.0 L232.7,115.7 L235.7,118.7 L237.6,114.2 L240.9,110.4 L243.9,108.2 L246.2,115.7 L248.7,115.7 L250.7,116.4 L252.4,119.0 L254.8,126.7 L257.5,117.7 L259.7,117.0 L262.7,125.9 L265.0,116.2 L266.5,114.7 L268.7,112.5 L271.0,104.7 L273.2,108.7 L276.2,114.0 L278.7,121.4 L280.0,127.4 L281.4,134.2 L283.7,135.7 L286.7,137.9 L289.7,131.6 L292.7,136.4 L294.9,137.9 L297.7,139.7 L300.2,133.2 L302.5,132.9 L304.7,126.9 L306.2,123.2 L308.5,121.0 L311.5,119.5 L314.2,122.2 L317.5,122.8 L321.2,124.0 L324.2,126.6 L327.2,126.2 L330.6,132.2 L332.7,133.2 L335.4,130.7 L338.4,132.6 L341.1,142.6 L343.2,138.5 L346.7,141.6 L349.7,141.6 L352.0,141.6 L354.5,138.7 L357.2,129.2 L360.2,132.7 L362.8,126.7 L365.4,124.7 L368.4,118.7 L371.4,121.4 L374.4,116.6 L376.7,115.4 L379.2,116.6 L381.9,112.5 L384.6,112.5 L387.0,117.5 L389.5,113.4 L392.2,109.3 L394.7,107.8 L397.3,107.5 L400.7,104.8 L403.7,106.3 L406.0,107.8 L409.0,109.7 L411.2,104.2 L413.7,109.7 L416.4,106.7 L419.4,104.2 L422.4,106.7 L425.1,109.7 L428.4,109.0 L431.4,109.3 L433.7,110.7 L436.0,113.8 L438.2,114.7 L441.2,118.7 L444.2,118.0 L447.2,116.8 L449.5,117.2 L451.7,128.4 L454.7,146.1 L456.9,139.7 L459.6,132.6 L462.6,130.7 L464.1,137.4 L466.2,146.4 L468.6,147.2 L471.2,150.1 L474.2,154.7 L475.7,163.0 L477.5,167.5 L479.3,172.2 L480.5,179.4 L482.0,186.9 L484.2,188.7 L486.8,199.0 L489.5,189.9 L492.5,199.0 L495.4,188.1 L497.7,192.6 L501.1,189.6 L503.2,181.7 L505.2,175.7 L507.1,171.9 L509.2,169.7 L511.6,173.4 L514.2,166.7 L516.3,170.5 L518.2,171.0 L519.5,166.9 L521.7,159.4 L524.0,154.9 L527.0,150.4 L528.8,147.4 L530.3,141.4 L533.0,146.7 L535.7,134.0 L538.7,135.4 L541.6,138.7 L544.2,132.5 L546.4,134.7 L548.7,126.5 L550.9,116.0 L553.2,112.7 L555.1,110.0 L557.7,112.2 L560.2,107.7 L563.2,114.4 L565.5,113.7 L568.2,115.6 L570.7,109.9 L573.3,111.7 L576.0,116.7 L578.2,118.2 L580.4,118.6 L582.7,121.9 L584.6,125.7 L587.2,118.2 L589.4,122.7 L592.1,119.7 L594.7,114.4 L597.7,109.6 L600.2,109.2 L601.5,109.2 L603.3,114.2 L606.0,110.1 L608.7,109.7 L611.2,116.1 L614.2,115.7 L616.8,93.2 L619.5,89.2 L622.2,94.7 L624.7,102.2 L627.7,99.2 L630.7,97.7 L633.2,102.2 L635.6,105.9 L638.2,92.5 L640.7,91.3 L644.2,92.2 L646.4,91.7 L648.2,88.0 L649.5,83.1 L651.7,78.7 L654.3,78.7 L655.8,67.4 L657.0,53.7 L658.2,53.2 L660.0,58.4 L662.2,48.0 L664.5,46.2 L667.5,45.0 L669.7,46.5 L671.6,49.2 L673.4,57.7 L675.7,54.7 L677.9,53.2 L680.6,50.7 L682.4,46.2 L684.7,45.4 L687.2,42.0 L689.6,45.7 L692.2,51.0 L694.8,52.0 L697.5,47.2 L699.7,46.0 L702.7,47.2 L705.7,48.7 L708.0,51.2 L710.2,53.7 L712.2,54.6 L714.3,52.2 L716.6,54.6 L719.2,53.4 L721.7,49.7 L724.1,53.7 L725.9,57.2 L727.7,60.9 L730.4,55.7 L733.1,52.2 L735.7,57.2 L738.7,56.7 L741.3,57.1 L744.0,55.9 L746.2,57.7 L749.2,52.9 L751.8,52.2 L754.5,52.9 L757.5,52.9 L759.7,47.7 L762.7,45.4 L765.7,43.2 L768.2,41.3 L770.6,40.7 L773.2,38.7 L776.2,37.2 L779.2,40.2 L782.2,43.2 L785.1,44.3 L789.0,45.8" fill="none" stroke="#16c784" stroke-width="2.2" stroke-linejoin="round" clip-path="url(#above)"/>
<path d="M9.0,171.6 L10.6,168.2 L15.5,175.5 L18.8,161.2 L20.7,160.0 L23.0,156.0 L24.5,150.0 L26.0,139.5 L27.5,129.0 L30.4,140.2 L32.7,133.5 L35.0,126.0 L36.0,122.0 L38.2,108.4 L40.5,101.7 L42.0,93.4 L43.8,84.2 L46.5,88.2 L49.2,92.2 L51.7,84.9 L54.0,85.2 L55.4,89.0 L57.2,94.6 L60.0,92.7 L62.2,93.7 L65.2,88.2 L68.2,85.2 L70.4,87.5 L73.4,88.2 L75.7,83.7 L78.0,86.5 L81.7,78.2 L84.7,80.7 L89.2,82.2 L90.7,80.7 L92.5,75.2 L94.9,84.2 L97.5,76.7 L99.3,78.5 L102.0,83.7 L104.2,89.0 L106.1,92.7 L108.2,101.7 L110.9,103.6 L113.2,106.9 L116.9,111.4 L119.2,116.6 L120.2,119.0 L122.5,128.0 L124.0,140.0 L125.8,153.4 L127.7,161.6 L130.0,157.2 L131.5,156.4 L133.3,157.6 L136.0,150.4 L138.2,145.9 L141.2,143.7 L143.7,139.2 L146.4,142.9 L149.1,143.7 L151.7,140.7 L154.7,139.2 L157.7,139.9 L159.9,143.7 L162.4,148.7 L165.2,137.4 L167.5,134.4 L169.7,133.2 L171.7,135.2 L173.5,139.2 L176.5,127.0 L179.5,127.4 L181.7,127.2 L184.0,123.2 L186.6,123.7 L189.2,120.2 L192.2,114.2 L195.2,122.2 L197.4,118.7 L200.4,121.0 L203.4,115.7 L205.7,113.5 L208.5,107.8 L211.3,109.7 L213.2,104.5 L216.2,97.7 L219.2,94.3 L220.7,98.5 L222.7,104.5 L225.2,106.7 L228.2,112.0 L232.7,115.7 L235.7,118.7 L237.6,114.2 L240.9,110.4 L243.9,108.2 L246.2,115.7 L248.7,115.7 L250.7,116.4 L252.4,119.0 L254.8,126.7 L257.5,117.7 L259.7,117.0 L262.7,125.9 L265.0,116.2 L266.5,114.7 L268.7,112.5 L271.0,104.7 L273.2,108.7 L276.2,114.0 L278.7,121.4 L280.0,127.4 L281.4,134.2 L283.7,135.7 L286.7,137.9 L289.7,131.6 L292.7,136.4 L294.9,137.9 L297.7,139.7 L300.2,133.2 L302.5,132.9 L304.7,126.9 L306.2,123.2 L308.5,121.0 L311.5,119.5 L314.2,122.2 L317.5,122.8 L321.2,124.0 L324.2,126.6 L327.2,126.2 L330.6,132.2 L332.7,133.2 L335.4,130.7 L338.4,132.6 L341.1,142.6 L343.2,138.5 L346.7,141.6 L349.7,141.6 L352.0,141.6 L354.5,138.7 L357.2,129.2 L360.2,132.7 L362.8,126.7 L365.4,124.7 L368.4,118.7 L371.4,121.4 L374.4,116.6 L376.7,115.4 L379.2,116.6 L381.9,112.5 L384.6,112.5 L387.0,117.5 L389.5,113.4 L392.2,109.3 L394.7,107.8 L397.3,107.5 L400.7,104.8 L403.7,106.3 L406.0,107.8 L409.0,109.7 L411.2,104.2 L413.7,109.7 L416.4,106.7 L419.4,104.2 L422.4,106.7 L425.1,109.7 L428.4,109.0 L431.4,109.3 L433.7,110.7 L436.0,113.8 L438.2,114.7 L441.2,118.7 L444.2,118.0 L447.2,116.8 L449.5,117.2 L451.7,128.4 L454.7,146.1 L456.9,139.7 L459.6,132.6 L462.6,130.7 L464.1,137.4 L466.2,146.4 L468.6,147.2 L471.2,150.1 L474.2,154.7 L475.7,163.0 L477.5,167.5 L479.3,172.2 L480.5,179.4 L482.0,186.9 L484.2,188.7 L486.8,199.0 L489.5,189.9 L492.5,199.0 L495.4,188.1 L497.7,192.6 L501.1,189.6 L503.2,181.7 L505.2,175.7 L507.1,171.9 L509.2,169.7 L511.6,173.4 L514.2,166.7 L516.3,170.5 L518.2,171.0 L519.5,166.9 L521.7,159.4 L524.0,154.9 L527.0,150.4 L528.8,147.4 L530.3,141.4 L533.0,146.7 L535.7,134.0 L538.7,135.4 L541.6,138.7 L544.2,132.5 L546.4,134.7 L548.7,126.5 L550.9,116.0 L553.2,112.7 L555.1,110.0 L557.7,112.2 L560.2,107.7 L563.2,114.4 L565.5,113.7 L568.2,115.6 L570.7,109.9 L573.3,111.7 L576.0,116.7 L578.2,118.2 L580.4,118.6 L582.7,121.9 L584.6,125.7 L587.2,118.2 L589.4,122.7 L592.1,119.7 L594.7,114.4 L597.7,109.6 L600.2,109.2 L601.5,109.2 L603.3,114.2 L606.0,110.1 L608.7,109.7 L611.2,116.1 L614.2,115.7 L616.8,93.2 L619.5,89.2 L622.2,94.7 L624.7,102.2 L627.7,99.2 L630.7,97.7 L633.2,102.2 L635.6,105.9 L638.2,92.5 L640.7,91.3 L644.2,92.2 L646.4,91.7 L648.2,88.0 L649.5,83.1 L651.7,78.7 L654.3,78.7 L655.8,67.4 L657.0,53.7 L658.2,53.2 L660.0,58.4 L662.2,48.0 L664.5,46.2 L667.5,45.0 L669.7,46.5 L671.6,49.2 L673.4,57.7 L675.7,54.7 L677.9,53.2 L680.6,50.7 L682.4,46.2 L684.7,45.4 L687.2,42.0 L689.6,45.7 L692.2,51.0 L694.8,52.0 L697.5,47.2 L699.7,46.0 L702.7,47.2 L705.7,48.7 L708.0,51.2 L710.2,53.7 L712.2,54.6 L714.3,52.2 L716.6,54.6 L719.2,53.4 L721.7,49.7 L724.1,53.7 L725.9,57.2 L727.7,60.9 L730.4,55.7 L733.1,52.2 L735.7,57.2 L738.7,56.7 L741.3,57.1 L744.0,55.9 L746.2,57.7 L749.2,52.9 L751.8,52.2 L754.5,52.9 L757.5,52.9 L759.7,47.7 L762.7,45.4 L765.7,43.2 L768.2,41.3 L770.6,40.7 L773.2,38.7 L776.2,37.2 L779.2,40.2 L782.2,43.2 L785.1,44.3 L789.0,45.8" fill="none" stroke="#ea3943" stroke-width="2.2" stroke-linejoin="round" clip-path="url(#below)"/>
<!-- ref label -->
<rect x="10.8" y="162.4" width="55.2" height="19.6" rx="5" fill="#fff" fill-opacity="0.9"/>
<text x="14.95" y="178.6" font-size="12" textLength="46.49" lengthAdjust="spacingAndGlyphs" fill="#58667e">108.07K</text>
<!-- y labels -->
<text x="794.88" y="70.9" font-size="12" textLength="45.16" lengthAdjust="spacingAndGlyphs" fill="#808a9d">110.00K</text><text x="794.88" y="125.9" font-size="12" textLength="45.16" lengthAdjust="spacingAndGlyphs" fill="#808a9d">109.00K</text><text x="794.88" y="180.9" font-size="12" textLength="45.16" lengthAdjust="spacingAndGlyphs" fill="#808a9d">108.00K</text><text x="794.88" y="235.9" font-size="12" textLength="45.16" lengthAdjust="spacingAndGlyphs" fill="#808a9d">107.00K</text>
<!-- current price -->
<rect x="789" y="32.3" width="59" height="27.2" rx="3.5" fill="#16c784"/>
<text x="794.89" y="50.9" font-size="12" textLength="44.75" lengthAdjust="spacingAndGlyphs" fill="#fff" stroke="#fff" stroke-width="0.25">110.37K</text>
<!-- x labels -->
<text x="49.28" y="292.6" font-size="12.5" textLength="49.00" lengthAdjust="spacingAndGlyphs" fill="#808a9d">9:00 AM</text><text x="143.94" y="292.6" font-size="12.5" textLength="54.00" lengthAdjust="spacingAndGlyphs" fill="#808a9d">12:00 PM</text><text x="244.41" y="292.6" font-size="12.5" textLength="47.95" lengthAdjust="spacingAndGlyphs" fill="#808a9d">3:00 PM</text><text x="341.64" y="292.6" font-size="12.5" textLength="48.12" lengthAdjust="spacingAndGlyphs" fill="#808a9d">6:00 PM</text><text x="438.89" y="292.6" font-size="12.5" textLength="48.27" lengthAdjust="spacingAndGlyphs" fill="#808a9d">9:00 PM</text><text x="543.97" y="292.6" font-size="12.5" textLength="32.55" lengthAdjust="spacingAndGlyphs" fill="#808a9d">2 Sep</text><text x="633.10" y="292.6" font-size="12.5" textLength="49.08" lengthAdjust="spacingAndGlyphs" fill="#808a9d">3:00 AM</text><text x="730.23" y="292.6" font-size="12.5" textLength="48.84" lengthAdjust="spacingAndGlyphs" fill="#808a9d">6:00 AM</text>
<!-- history badge -->
<path d="M9,312.1 C12,310.2 14,307.8 16,304.6 C18,301.2 21,299.2 26.5,299.2 L51.6,299.2 A13.65,13.65 0 0 1 51.6,326.5 L26.5,326.5 C21,326.5 18,324.4 16,320.8 C14,317.2 12,314.2 9,312.1 Z" fill="#a6b0c4"/>
<g fill="none" stroke="#fff" stroke-width="1.5" stroke-linecap="round" stroke-linejoin="round">
<path d="M21.9,309.9 A5.2,5.2 0 1 1 22.8,315.2"/>
<path d="M26.6,308.7 L26.6,311.9 L28.5,313.4"/>
</g>
<path d="M19.9,309.5 L22.5,309.7 L20.5,312.0 Z" fill="#fff" stroke="#fff" stroke-width="0.5" stroke-linejoin="round"/>
<text x="37.25" y="317" font-size="12.5" textLength="20.80" lengthAdjust="spacingAndGlyphs" fill="#fff" stroke="#fff" stroke-width="0.3">123</text>
<!-- event badge -->
<path d="M704.8,300.5 L709.4,294.6 L714.2,300.5 Z" fill="#8c3efb"/>
<rect x="632.6" y="299.2" width="154.8" height="26.6" rx="13.3" fill="#8c3efb"/>
<path d="M647.3,305.9 L641.6,313.5 L646.3,313.5 L643.7,318.9 L650.4,311.2 L645.8,311.2 Z" fill="none" stroke="#fff" stroke-width="1.4" stroke-linejoin="round"/>
<text x="656.62" y="316.9" font-size="12" textLength="121.83" lengthAdjust="spacing" fill="#fff" stroke="#fff" stroke-width="0.35">U.S. establishes Str...</text>
<!-- navigator -->
<g stroke="#f3f4f5" stroke-width="1.6">
<line x1="8" y1="331.4" x2="788" y2="331.4"/>
<line x1="84.0" y1="331.5" x2="84.0" y2="375"/><line x1="187.0" y1="331.5" x2="187.0" y2="375"/><line x1="290.0" y1="331.5" x2="290.0" y2="375"/><line x1="393.0" y1="331.5" x2="393.0" y2="375"/><line x1="496.0" y1="331.5" x2="496.0" y2="375"/><line x1="599.0" y1="331.5" x2="599.0" y2="375"/><line x1="702.2" y1="331.5" x2="702.2" y2="375"/>
</g>
<path d="M8.0,375.0 L9.3,375.0 L10.6,375.0 L11.9,375.0 L13.2,375.0 L14.5,375.0 L15.8,375.0 L17.1,375.0 L18.4,375.0 L19.7,375.0 L21.0,375.0 L22.3,375.0 L23.6,375.0 L24.9,375.0 L26.2,375.0 L27.5,375.0 L28.8,375.0 L30.1,375.0 L31.4,375.0 L32.8,375.0 L34.1,375.0 L35.4,375.0 L36.7,375.0 L38.0,375.0 L39.3,375.0 L40.6,375.0 L41.9,375.0 L43.2,375.0 L44.5,375.0 L45.8,375.0 L47.1,375.0 L48.4,375.0 L49.7,375.0 L51.0,375.0 L52.3,375.0 L53.6,375.0 L54.9,375.0 L56.2,375.0 L57.5,375.0 L58.8,375.0 L60.1,375.0 L61.4,375.0 L62.7,375.0 L64.0,375.0 L65.3,375.0 L66.6,375.0 L67.9,375.0 L69.2,375.0 L70.5,375.0 L71.8,375.0 L73.1,375.0 L74.4,375.0 L75.7,375.0 L77.0,375.0 L78.3,375.0 L79.7,375.0 L81.0,375.0 L82.3,375.0 L83.6,375.0 L84.9,375.0 L86.2,375.0 L87.5,375.0 L88.8,375.0 L90.1,375.0 L91.4,375.0 L92.7,375.0 L94.0,375.0 L95.3,375.0 L96.6,375.0 L97.9,375.0 L99.2,375.0 L100.5,375.0 L101.8,375.0 L103.1,375.0 L104.4,375.0 L105.7,375.0 L107.0,375.0 L108.3,375.0 L109.6,375.0 L110.9,375.0 L112.2,375.0 L113.5,375.0 L114.8,375.0 L116.1,375.0 L117.4,375.0 L118.7,375.0 L120.0,375.0 L121.3,375.0 L122.6,375.0 L123.9,375.0 L125.2,375.0 L126.6,375.0 L127.9,375.0 L129.2,375.0 L130.5,375.0 L131.8,375.0 L133.1,375.0 L134.4,375.0 L135.7,375.0 L137.0,375.0 L138.3,375.0 L139.6,375.0 L140.9,375.0 L142.2,375.0 L143.5,375.0 L144.8,375.0 L146.1,375.0 L147.4,375.0 L148.7,375.0 L150.0,375.0 L151.3,375.0 L152.6,375.0 L153.9,375.0 L155.2,375.0 L156.6,375.0 L157.9,375.0 L159.2,375.0 L160.5,375.0 L161.8,375.0 L163.1,375.0 L164.4,375.0 L165.7,375.0 L167.0,375.0 L168.4,375.0 L169.7,374.9 L171.0,374.9 L172.3,374.9 L173.6,374.9 L174.9,374.9 L176.2,374.9 L177.5,374.9 L178.9,374.9 L180.2,374.9 L181.5,374.9 L182.8,374.9 L184.1,374.9 L185.4,374.9 L186.7,374.9 L188.0,374.9 L189.3,374.9 L190.7,374.9 L192.0,374.9 L193.3,374.9 L194.6,374.9 L195.9,374.9 L197.2,374.9 L198.5,374.9 L199.8,374.9 L201.1,374.9 L202.5,374.9 L203.8,374.9 L205.1,374.9 L206.4,374.8 L207.7,374.9 L209.0,374.9 L210.3,374.8 L211.6,374.8 L213.0,374.8 L214.3,374.8 L215.6,374.9 L216.9,374.8 L218.2,374.8 L219.5,374.8 L220.8,374.8 L222.1,374.8 L223.4,374.8 L224.8,374.8 L226.1,374.8 L227.4,374.8 L228.7,374.8 L230.0,374.8 L231.3,374.8 L232.6,374.8 L234.0,374.8 L235.3,374.8 L236.6,374.8 L237.9,374.8 L239.2,374.8 L240.6,374.7 L241.9,374.7 L243.2,374.7 L244.5,374.7 L245.8,374.7 L247.2,374.7 L248.5,374.7 L249.8,374.7 L251.1,374.7 L252.5,374.7 L253.8,374.7 L255.1,374.7 L256.4,374.7 L257.7,374.7 L259.1,374.7 L260.4,374.6 L261.7,374.7 L263.0,374.7 L264.3,374.7 L265.7,374.6 L267.0,374.7 L268.3,374.7 L269.6,374.6 L270.9,374.6 L272.3,374.7 L273.6,374.6 L274.9,374.6 L276.2,374.6 L277.5,374.6 L278.9,374.6 L280.2,374.6 L281.5,374.6 L282.8,374.6 L284.2,374.6 L285.5,374.6 L286.8,374.6 L288.1,374.6 L289.4,374.5 L290.8,374.5 L292.1,374.5 L293.4,374.6 L294.7,374.6 L296.0,374.5 L297.4,374.5 L298.7,374.6 L300.0,374.5 L301.3,374.5 L302.6,374.5 L303.9,374.4 L305.2,374.4 L306.5,374.5 L307.8,374.5 L309.1,374.5 L310.4,374.5 L311.7,374.4 L313.0,374.5 L314.3,374.5 L315.7,374.4 L317.0,374.4 L318.3,374.4 L319.6,374.4 L320.9,374.4 L322.2,374.4 L323.5,374.4 L324.8,374.3 L326.1,374.4 L327.4,374.3 L328.7,374.4 L330.0,374.4 L331.3,374.4 L332.6,374.3 L333.9,374.4 L335.2,374.3 L336.5,374.3 L337.8,374.3 L339.1,374.2 L340.4,374.3 L341.7,374.2 L343.0,374.2 L344.3,374.3 L345.7,374.2 L347.0,374.3 L348.3,374.3 L349.6,374.3 L350.9,374.2 L352.2,374.2 L353.5,374.2 L354.8,374.3 L356.1,374.2 L357.4,374.2 L358.7,374.2 L360.0,374.2 L361.4,374.2 L362.7,374.1 L364.1,374.1 L365.5,374.1 L366.8,374.1 L368.2,374.0 L369.5,374.0 L370.9,373.9 L372.3,373.9 L373.6,373.9 L375.0,373.8 L376.3,373.7 L377.7,373.5 L379.0,373.6 L380.3,373.3 L381.7,373.3 L383.0,373.2 L384.7,372.2 L386.3,371.7 L388.0,371.4 L389.5,370.6 L391.0,369.1 L392.5,369.8 L394.0,370.9 L395.3,371.0 L396.7,371.5 L398.0,371.7 L399.3,372.2 L400.7,372.3 L402.0,372.4 L403.3,372.0 L404.7,372.4 L406.0,372.4 L407.3,372.2 L408.7,372.7 L410.0,372.8 L411.3,372.4 L412.7,372.9 L414.0,372.7 L415.3,372.8 L416.7,373.1 L418.0,373.1 L419.4,372.9 L420.7,373.1 L422.1,373.2 L423.4,373.2 L424.8,373.2 L426.1,373.3 L427.5,373.5 L428.8,373.3 L430.2,373.5 L431.5,373.6 L432.9,373.5 L434.2,373.7 L435.6,373.8 L436.9,373.8 L438.3,373.8 L439.6,374.1 L441.0,374.1 L442.3,374.0 L443.6,373.7 L444.9,373.7 L446.2,373.6 L447.5,373.7 L448.8,373.5 L450.2,373.3 L451.5,373.4 L452.8,373.5 L454.1,373.4 L455.4,373.1 L456.7,372.9 L458.0,373.2 L459.4,372.9 L460.8,372.9 L462.2,372.5 L463.6,372.4 L465.0,372.6 L466.4,372.4 L467.8,372.0 L469.2,372.5 L470.6,372.2 L472.0,372.2 L473.4,371.8 L474.8,372.4 L476.2,372.0 L477.5,372.5 L478.9,372.4 L480.3,372.4 L481.7,372.6 L483.1,372.8 L484.5,372.6 L485.8,372.6 L487.2,372.9 L488.6,372.8 L490.0,372.8 L491.4,372.8 L492.8,372.6 L494.2,372.6 L495.6,372.6 L497.0,372.5 L498.4,372.7 L499.8,372.4 L501.2,372.4 L502.6,372.2 L504.0,372.2 L505.4,372.0 L506.7,372.1 L508.1,371.9 L509.4,372.4 L510.8,372.2 L512.1,372.0 L513.5,372.1 L514.9,372.4 L516.2,371.9 L517.6,372.3 L518.9,372.0 L520.3,372.0 L521.6,372.2 L523.0,371.9 L524.4,371.7 L525.8,371.6 L527.2,371.6 L528.5,370.7 L529.9,370.9 L531.3,370.6 L532.7,370.2 L534.1,369.7 L535.5,369.3 L536.8,368.7 L538.2,368.5 L539.6,368.1 L541.0,368.8 L542.4,367.1 L543.8,366.0 L545.2,365.0 L546.6,365.5 L548.0,364.7 L549.5,363.1 L551.0,361.1 L552.5,359.8 L554.0,358.6 L555.3,358.1 L556.7,356.7 L558.0,356.4 L559.3,355.3 L560.7,355.8 L562.0,355.1 L563.5,355.2 L565.0,355.5 L566.5,358.7 L568.0,359.5 L569.5,361.1 L571.1,362.0 L572.6,364.2 L574.1,363.4 L575.6,362.6 L577.0,361.1 L578.5,360.7 L580.0,358.9 L581.6,359.7 L583.1,359.7 L584.7,360.5 L586.0,358.4 L587.3,356.9 L588.6,355.9 L589.9,354.3 L591.2,353.5 L592.5,354.5 L593.8,356.0 L595.1,356.9 L596.4,358.1 L597.7,359.5 L599.0,359.2 L600.3,359.6 L601.6,361.4 L602.9,360.4 L604.2,362.0 L605.7,361.5 L607.2,360.1 L608.6,361.1 L610.1,360.9 L611.6,360.0 L613.1,361.1 L614.5,362.2 L616.0,361.9 L617.5,363.6 L619.0,364.5 L620.4,366.0 L621.9,366.8 L623.3,368.2 L624.7,369.1 L626.1,369.4 L627.5,369.0 L628.9,368.8 L630.2,368.0 L631.6,367.5 L633.0,367.5 L634.4,368.1 L635.7,367.9 L637.1,369.1 L638.4,368.9 L639.8,369.1 L641.1,369.3 L642.5,369.5 L643.8,369.5 L645.2,369.1 L646.5,370.2 L647.9,370.3 L649.4,369.4 L650.9,368.9 L652.3,368.6 L653.8,367.1 L655.3,367.6 L656.7,366.5 L658.1,366.0 L659.5,366.1 L660.9,366.7 L662.3,365.5 L663.7,366.2 L665.1,366.4 L666.5,365.3 L667.9,365.1 L669.3,365.2 L670.7,365.5 L672.1,365.6 L673.5,365.3 L674.9,365.3 L676.3,364.3 L677.7,364.4 L679.1,364.7 L680.5,365.8 L681.9,365.1 L683.2,365.8 L684.6,364.9 L686.0,365.2 L687.4,365.7 L688.8,366.6 L690.2,365.8 L691.6,365.0 L693.0,363.4 L694.4,363.0 L695.8,362.4 L697.2,361.9 L698.6,360.8 L700.0,361.7 L701.4,360.1 L702.8,361.2 L704.2,360.8 L705.6,358.9 L707.0,359.3 L708.4,359.7 L710.3,356.6 L712.2,352.4 L713.6,352.2 L715.1,352.2 L716.5,353.6 L717.9,352.4 L719.3,353.2 L720.8,352.5 L722.2,353.3 L723.6,354.2 L724.9,352.9 L726.3,354.3 L727.6,353.8 L729.0,354.7 L730.3,354.5 L731.7,353.8 L733.0,355.1 L734.5,354.4 L736.1,353.5 L737.6,353.5 L739.2,354.4 L740.7,354.3 L742.1,351.9 L743.5,349.5 L745.0,347.7 L746.4,345.6 L747.8,345.3 L749.2,342.6 L750.6,342.8 L752.0,341.7 L753.6,340.6 L755.2,342.3 L756.8,342.1 L758.1,343.3 L759.4,343.0 L760.8,344.0 L762.1,344.9 L763.4,346.8 L765.3,347.0 L767.2,347.4 L768.6,345.7 L770.0,343.5 L771.5,341.3 L772.9,339.5 L774.3,340.3 L775.8,338.9 L777.2,339.6 L778.6,337.8 L780.2,337.1 L781.7,336.8 L783.3,335.4 L784.9,336.0 L786.4,337.4 L788.0,336.8 L788,375.5 L8,375.5 Z" fill="#eef0f4"/>
<line x1="8" y1="375.3" x2="788" y2="375.3" stroke="#f1f2f3" stroke-width="1.2"/>
<text x="70.47" y="393.5" font-size="12" textLength="27.86" lengthAdjust="spacingAndGlyphs" fill="#808a9d">2012</text><text x="173.48" y="393.5" font-size="12" textLength="27.59" lengthAdjust="spacingAndGlyphs" fill="#808a9d">2014</text><text x="276.47" y="393.5" font-size="12" textLength="27.78" lengthAdjust="spacingAndGlyphs" fill="#808a9d">2016</text><text x="379.47" y="393.5" font-size="12" textLength="27.77" lengthAdjust="spacingAndGlyphs" fill="#808a9d">2018</text><text x="482.47" y="393.5" font-size="12" textLength="27.71" lengthAdjust="spacingAndGlyphs" fill="#808a9d">2020</text><text x="585.47" y="393.5" font-size="12" textLength="27.86" lengthAdjust="spacingAndGlyphs" fill="#808a9d">2022</text><text x="688.68" y="393.5" font-size="12" textLength="27.59" lengthAdjust="spacingAndGlyphs" fill="#808a9d">2024</text>
<!-- handle -->
<rect x="780" y="342.4" width="15" height="21.6" rx="7" fill="#fff" style="filter:drop-shadow(0 1px 3px rgba(88,102,126,0.22))"/>
<g stroke="#b4bccb" stroke-width="1.6"><line x1="785.7" y1="348.7" x2="785.7" y2="356.8"/><line x1="789.3" y1="348.7" x2="789.3" y2="356.8"/></g>
</svg>
</body></html>
